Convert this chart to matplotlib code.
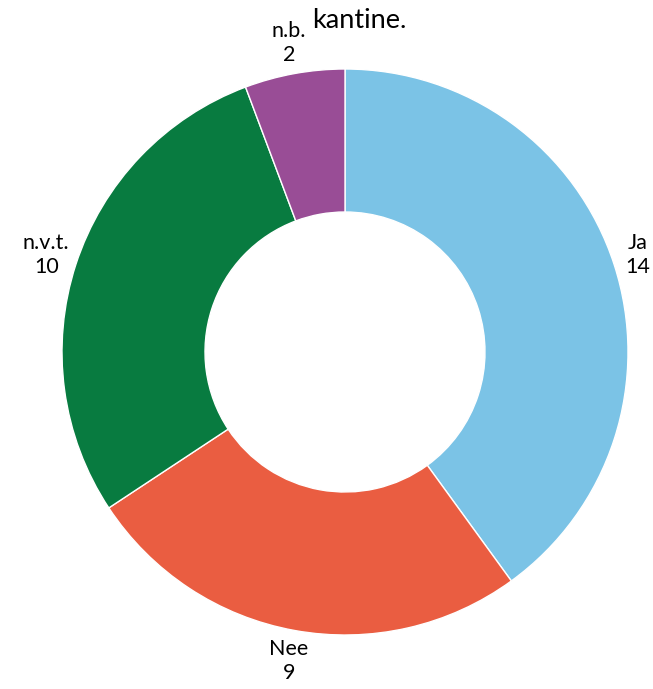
import matplotlib
matplotlib.use("Agg")
import matplotlib.pyplot as plt

labels = ["Ja", "Nee", "n.v.t.", "n.b."]
values = [14, 9, 10, 2]
colors = ["#7bc3e6", "#ea5d41", "#087b40", "#994d96"]

plt.rcParams['font.family'] = ['Lato', 'DejaVu Sans']

fig = plt.figure(figsize=(6.53, 6.89), dpi=100)
ax = fig.add_axes([0, 0, 1, 1])

texts = [f"{l}\n{v}" for l, v in zip(labels, values)]
wedges, lbls = ax.pie(values, labels=texts, colors=colors, startangle=90,
                      counterclock=False, radius=283, labeldistance=1.11,
                      wedgeprops=dict(width=143, edgecolor="white", linewidth=1),
                      textprops=dict(ha="center", va="center", fontsize=15.5,
                                     linespacing=1.25))

# keep the right-hand label inside the canvas
x, y = lbls[0].get_position()
lbls[0].set_position((x - 6, y))

ax.set_xlim(-345, 653 - 345)
ax.set_ylim(-(689 - 352), 352)
ax.set_aspect("equal")
ax.axis("off")

fig.text(359 / 653, 1 - 20 / 689, "kantine.", ha="center", va="center", fontsize=19.5)

fig.savefig("out.png", dpi=100)
